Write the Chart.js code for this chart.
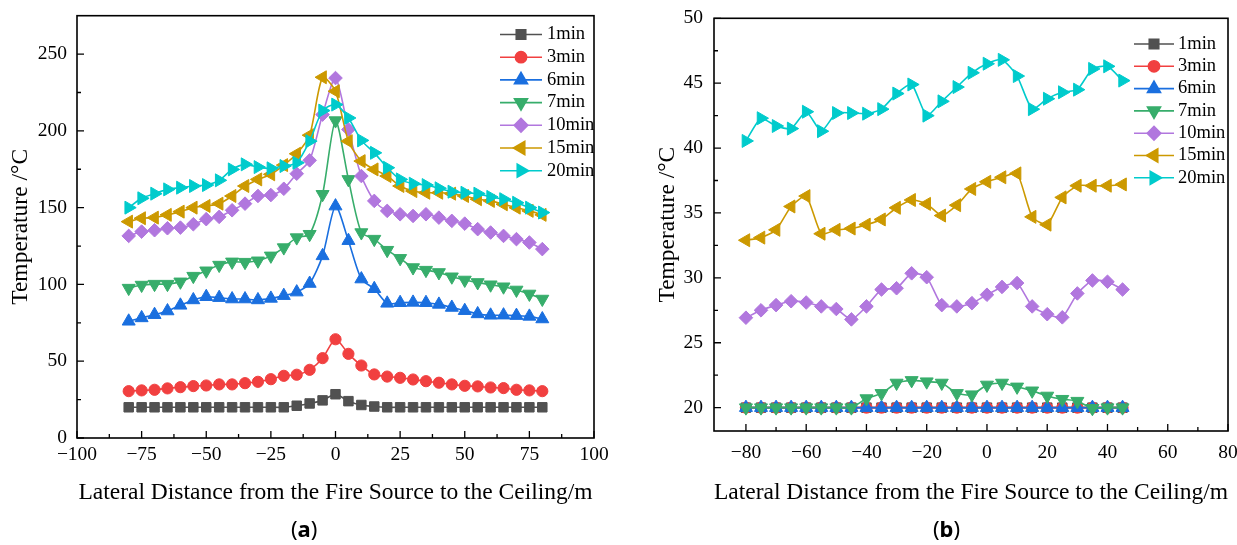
<!DOCTYPE html>
<html>
<head>
<meta charset="utf-8">
<script src="https://cdn.jsdelivr.net/npm/chart.js@4/dist/chart.umd.min.js"></script>
<style>
  body { margin: 0; background: #fff; }
  .panel { position: absolute; top: 0; }
  .tag { position: absolute; top: 513px; font: 22px "Noto Sans", sans-serif; color: #000; }
  .tag b { font-weight: 700; }
</style>
</head>
<body>
<div class="panel" style="left:0"><canvas id="chartA" width="618" height="545"></canvas></div>
<div class="panel" style="left:618px"><canvas id="chartB" width="619" height="545"></canvas></div>
<div class="tag" style="left:291px">(<b>a</b>)</div>
<div class="tag" style="left:933px">(<b>b</b>)</div>

<script>
const seriesNames = ['1min', '3min', '6min', '7min', '10min', '15min', '20min'];
const colors = ['#515151', '#F14040', '#1A6FDF', '#37AD6B', '#B177DE', '#CC9900', '#00CBCC'];

// panel (a)
const xA = [-80, -75, -70, -65, -60, -55, -50, -45, -40, -35, -30, -25, -20, -15, -10, -5, 0,
            5, 10, 15, 20, 25, 30, 35, 40, 45, 50, 55, 60, 65, 70, 75, 80];
const a1 = [20, 20, 20, 20, 20, 20, 20, 20, 20, 20, 20, 20, 20, 21, 22.5, 24.5, 28.5,
            24, 21.5, 20.5, 20, 20, 20, 20, 20, 20, 20, 20, 20, 20, 20, 20, 20];
const a3 = [30.5, 31, 31.4, 32.3, 33.1, 33.8, 34.2, 34.9, 34.9, 35.7, 36.6, 38.3, 40.5, 41.2, 44.4, 52, 64.3,
            54.8, 47.2, 41.4, 40, 39.2, 38.1, 37, 36, 34.9, 34, 33.6, 32.9, 32.5, 31.4, 31, 30.5];
const a6 = [76, 78.2, 80.3, 82.7, 86.4, 89.9, 92, 91.4, 90.5, 90.5, 89.9, 90.9, 92.7, 95, 100.6, 118.6, 151,
            128.5, 103.5, 97.2, 87.7, 88.1, 88.3, 88.1, 87, 85, 82.9, 80.8, 79.9, 80, 79.7, 79.2, 77.5];
const a7 = [97.6, 99.6, 100.2, 100.2, 101.7, 105.4, 108.9, 112.6, 114.7, 114.5, 115.4, 118.6, 124, 130.5, 132.7, 158.7, 206.7,
            168.4, 133.8, 129.5, 122.3, 117, 111, 109.3, 107.8, 105, 102.9, 101.3, 99.8, 98.5, 96.4, 93.8, 90.5];
const a10 = [131.6, 134.4, 135.3, 136.6, 137, 139.2, 142.5, 144, 148.3, 152.6, 157.6, 158.2, 162.3, 172.1, 180.8, 210.6, 234.4,
             200.9, 170.6, 154.4, 147.9, 145.7, 144.6, 145.7, 143.5, 141.4, 139.6, 136, 133.8, 131.6, 129.5, 127.3, 123];
const a15 = [140.9, 143.1, 143.5, 145.3, 147.4, 150, 151.1, 152.6, 157.6, 164.1, 168.4, 171.7, 177.7, 185.1, 197.2, 234.9, 225.8,
             193.3, 180.3, 174.9, 170.6, 164.1, 160.8, 159.7, 159.7, 159.1, 157.6, 155.5, 154.4, 152.2, 150, 147.9, 145.3];
const a20 = [150, 156.1, 159.1, 161.9, 163, 164.1, 164.7, 167.8, 174.9, 178.2, 176.4, 175.6, 177.1, 179.2, 193.3, 213.2, 217.1,
             208.4, 193.8, 185.7, 176, 168.4, 165.6, 164.7, 162.6, 160.4, 159.7, 159.1, 157, 155.5, 153.2, 150, 146.8];
const xTicksA = [-100, -75, -50, -25, 0, 25, 50, 75, 100];
const yTicksA = [0, 50, 100, 150, 200, 250];

// panel (b)
const xB = [-80, -75, -70, -65, -60, -55, -50, -45, -40, -35, -30, -25, -20, -15, -10, -5,
            0, 5, 10, 15, 20, 25, 30, 35, 40, 45];
const b1 = [20, 20, 20, 20, 20, 20, 20, 20, 20, 20, 20, 20, 20, 20, 20, 20, 20, 20, 20, 20, 20, 20, 20, 20, 20, 20];
const b3 = [20, 20, 20, 20, 20, 20, 20, 20, 20, 20, 20, 20, 20, 20, 20, 20, 20, 20, 20, 20, 20, 20, 20, 20, 20, 20];
const b6 = [20, 20, 20, 20, 20, 20, 20, 20, 20, 20, 20, 20, 20, 20, 20, 20, 20, 20, 20, 20, 20, 20, 20, 20, 20, 20];
const b7 = [20, 20, 20, 20, 20, 20, 20, 20, 20.7, 21.1, 21.9, 22.1, 22, 21.9, 21.1, 21,
            21.75, 21.9, 21.6, 21.3, 20.9, 20.65, 20.5, 19.95, 20, 20];
const b10 = [26.93, 27.5, 27.9, 28.2, 28.1, 27.8, 27.6, 26.8, 27.8, 29.1, 29.2, 30.35, 30.05, 27.9, 27.8, 28.05,
             28.7, 29.3, 29.6, 27.8, 27.2, 26.96, 28.8, 29.8, 29.7, 29.1];
const b15 = [32.9, 33.1, 33.7, 35.5, 36.3, 33.4, 33.7, 33.8, 34.1, 34.5, 35.4, 36, 35.7, 34.8, 35.6, 36.85,
             37.4, 37.75, 38.05, 34.7, 34.1, 36.2, 37.1, 37.1, 37.1, 37.2];
const b20 = [40.55, 42.3, 41.7, 41.5, 42.8, 41.3, 42.7, 42.7, 42.65, 43, 44.2, 44.9, 42.5, 43.6, 44.7, 45.8,
             46.5, 46.8, 45.55, 43, 43.8, 44.3, 44.5, 46.1, 46.3, 45.2];
const xTicksB = [-80, -60, -40, -20, 0, 20, 40, 60, 80];
const yTicksB = [20, 25, 30, 35, 40, 45, 50];

const markers = [
  {style: 'rect', rot: 0, r: 6.7},
  {style: 'circle', rot: 0, r: 5.6},
  {style: 'triangle', rot: 0, r: 7.5},
  {style: 'triangle', rot: 180, r: 7.5},
  {style: 'rectRot', rot: 0, r: 6.8},
  {style: 'triangle', rot: 270, r: 7.5},
  {style: 'triangle', rot: 90, r: 7.5}
];

Chart.defaults.font.family = '"Liberation Serif", "Times New Roman", serif';
Chart.defaults.color = '#000';

const fmt = v => (v < 0 ? '\u2212' + Math.abs(v) : String(v));

// box round the plot, ticks pointing inwards on the bottom and left axes
const frame = {
  id: 'frame',
  afterDraw(chart, args, o) {
    const {ctx, chartArea: a, scales: {x, y}} = chart;
    const mids = t => t.slice(1).map((v, i) => (v + t[i]) / 2);
    ctx.save();
    ctx.strokeStyle = '#000';
    ctx.lineWidth = 1.3;
    ctx.beginPath();
    o.xTicks.forEach(v => { const p = x.getPixelForValue(v); ctx.moveTo(p, a.bottom); ctx.lineTo(p, a.bottom - 7); });
    mids(o.xTicks).forEach(v => { const p = x.getPixelForValue(v); ctx.moveTo(p, a.bottom); ctx.lineTo(p, a.bottom - 4); });
    o.yTicks.forEach(v => { const p = y.getPixelForValue(v); ctx.moveTo(a.left, p); ctx.lineTo(a.left + 7, p); });
    mids(o.yTicks).forEach(v => { const p = y.getPixelForValue(v); ctx.moveTo(a.left, p); ctx.lineTo(a.left + 4, p); });
    ctx.stroke();
    ctx.lineWidth = 1.6;
    ctx.strokeRect(a.left, a.top, a.right - a.left, a.bottom - a.top);
    ctx.restore();
  }
};

// legend drawn as line + marker + label, like the original plot
const legendBox = {
  id: 'legendBox',
  afterDraw(chart, args, o) {
    const ctx = chart.ctx;
    ctx.save();
    ctx.font = '18.5px "Liberation Serif", serif';
    ctx.textBaseline = 'middle';
    chart.data.datasets.forEach((d, i) => {
      const y = o.y + i * o.step;
      ctx.strokeStyle = d.borderColor;
      ctx.lineWidth = d.borderWidth;
      ctx.beginPath();
      ctx.moveTo(o.x, y);
      ctx.lineTo(o.x + o.len, y);
      ctx.stroke();
      ctx.fillStyle = d.backgroundColor;
      Chart.helpers.drawPoint(ctx, {pointStyle: d.pointStyle, rotation: d.rotation, radius: d.pointRadius, borderWidth: 1},
        o.x + o.len / 2, y);
      ctx.fillStyle = '#000';
      ctx.fillText(d.label, o.x + o.len + o.gap, y);
    });
    ctx.restore();
  }
};

function makeChart(id, xs, series, p) {
  const datasets = series.map((s, i) => ({
    label: seriesNames[i],
    data: xs.map((x, j) => ({x: x, y: s[j]})),
    borderColor: colors[i],
    backgroundColor: colors[i],
    borderWidth: 1.6,
    pointStyle: markers[i].style,
    rotation: markers[i].rot,
    pointRadius: markers[i].r,
    pointBorderWidth: 1,
    pointBorderColor: colors[i],
    pointBackgroundColor: colors[i],
    tension: p.tension,
    order: series.length - i
  }));
  return new Chart(document.getElementById(id), {
    type: 'line',
    data: {datasets: datasets},
    plugins: [frame, legendBox],
    options: {
      responsive: false,
      animation: false,
      layout: {padding: {top: p.top, right: p.right, bottom: 0, left: 0}},
      plugins: {
        legend: {display: false},
        tooltip: {enabled: false},
        frame: {xTicks: p.xTicks, yTicks: p.yTicks},
        legendBox: p.legend
      },
      scales: {
        x: {
          type: 'linear', min: p.xMin, max: p.xMax,
          grid: {display: false, drawTicks: false},
          border: {display: false},
          afterBuildTicks: s => { s.ticks = p.xTicks.map(v => ({value: v})); },
          afterFit: s => { s.height = p.xHeight; s.paddingLeft = 0; s.paddingRight = 0; },
          ticks: {font: {size: 19.5}, padding: p.xPad, maxRotation: 0, autoSkip: false, callback: fmt},
          title: {display: true, text: 'Lateral Distance from the Fire Source to the Ceiling/m',
                  font: {size: 23.5}, padding: {top: 0, bottom: 38}}
        },
        y: {
          min: p.yMin, max: p.yMax,
          grid: {display: false, drawTicks: false},
          border: {display: false},
          afterBuildTicks: s => { s.ticks = p.yTicks.map(v => ({value: v})); },
          afterFit: s => { s.width = p.yWidth; s.paddingTop = 0; s.paddingBottom = 0; },
          ticks: {font: {size: 19.5}, padding: p.yPad, autoSkip: false, callback: fmt},
          title: {display: true, text: 'Temperature /\u00B0C', font: {size: 23.5}, padding: {top: p.yTitlePad, bottom: 0}}
        }
      }
    }
  });
}

makeChart('chartA', xA, [a1, a3, a6, a7, a10, a15, a20], {
  xMin: -100, xMax: 100, yMin: 0, yMax: 275,
  xTicks: xTicksA, yTicks: yTicksA,
  top: 15.7, right: 24, xHeight: 107, yWidth: 77,
  xPad: 5, yPad: 10, yTitlePad: 7, tension: 0.25,
  legend: {x: 500, y: 34.5, step: 22.7, len: 42, gap: 5}
});

makeChart('chartB', xB, [b1, b3, b6, b7, b10, b15, b20], {
  xMin: -90.6, xMax: 80, yMin: 18.2, yMax: 50,
  xTicks: xTicksB, yTicks: yTicksB,
  top: 18.3, right: 9, xHeight: 114, yWidth: 96,
  xPad: 10, yPad: 11, yTitlePad: 36, tension: 0.2,
  legend: {x: 516, y: 44, step: 22.3, len: 40, gap: 4}
});
</script>
</body>
</html>
